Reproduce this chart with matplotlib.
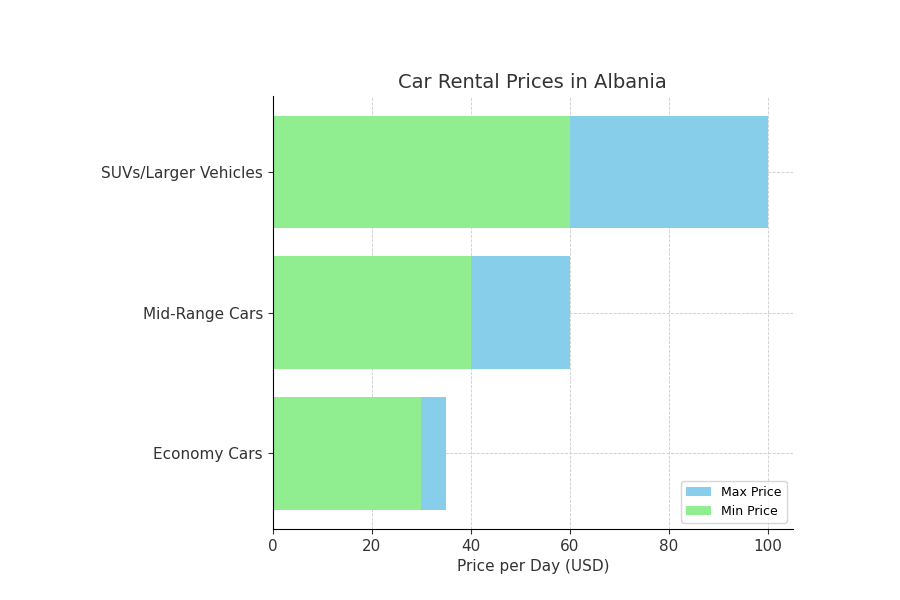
import matplotlib.pyplot as plt

categories = ["Economy Cars", "Mid-Range Cars", "SUVs/Larger Vehicles"]
max_price = [35, 60, 100]
min_price = [30, 40, 60]

fig = plt.figure(figsize=(9, 6), dpi=100)
ax = fig.add_axes([0.303, 0.118, 0.578, 0.722])
ax.barh(categories, max_price, color="#87CEEB", label="Max Price")
ax.barh(categories, min_price, color="#90EE90", label="Min Price")
ax.set_xlim(0, 105)
ax.set_title("Car Rental Prices in Albania", fontsize=14, color="#333333")
ax.set_xlabel("Price per Day (USD)", fontsize=11, color="#333333")
ax.grid(True, linestyle="--", linewidth=0.6, color="#cccccc")
ax.set_axisbelow(True)
for s in ["top", "right"]:
    ax.spines[s].set_visible(False)
ax.tick_params(labelsize=11, colors="#333333")
ax.legend(loc="lower right", fontsize=9)
fig.savefig("out.png")
